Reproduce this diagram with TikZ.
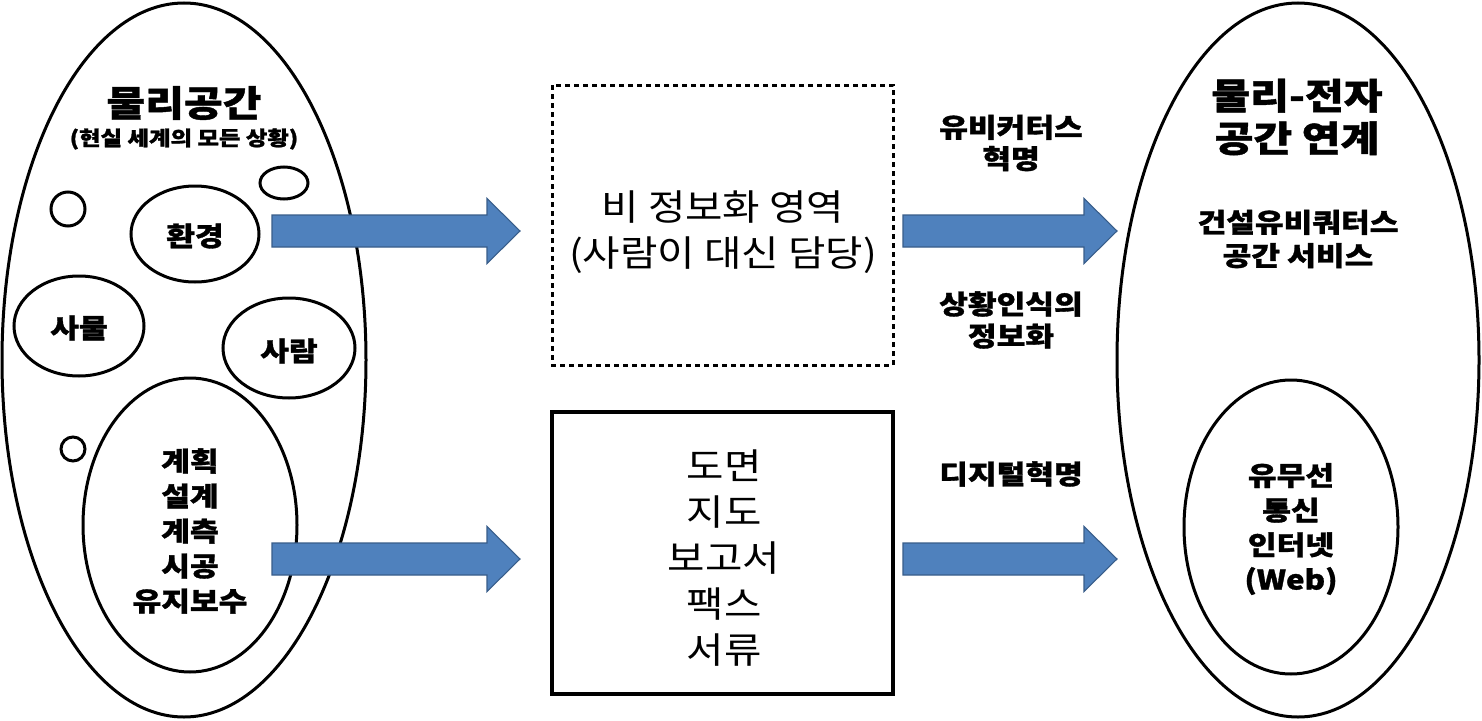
\documentclass[tikz,border=0pt]{standalone}
\usepackage{fontspec}
\setmainfont{Noto Sans CJK KR}[FakeStretch=1.13, BoldFeatures={FakeStretch=1.17, FakeBold=1.2}]
\usetikzlibrary{calc}
\definecolor{arrowfill}{HTML}{4F81BD}
\definecolor{arrowdraw}{HTML}{385D8A}
\tikzset{
  outline/.style={draw=black, line width=2.25pt},
  boldtxt/.style={font=\bfseries\fontsize{20}{26}\selectfont, align=center},
  titletxt/.style={font=\bfseries\fontsize{27}{32}\selectfont, align=center},
  boxtxt/.style={font=\fontsize{27}{34.5}\selectfont, align=center},
  blockarrow/.style={fill=arrowfill, draw=arrowdraw, line width=0.8pt,
    to path={let \p1=(\tikztostart), \p2=(\tikztotarget) in
      (\x1,\y1+12pt) -- (\x2-24.75pt,\y1+12pt) -- (\x2-24.75pt,\y1+24.4pt)
      -- (\x2,\y1) -- (\x2-24.75pt,\y1-24.4pt) -- (\x2-24.75pt,\y1-12pt)
      -- (\x1,\y1-12pt) -- cycle}}
}
\begin{document}
\begin{tikzpicture}[x=0.75pt,y=-0.75pt]
\useasboundingbox[fill=white] (0,0) rectangle (1482,721);

% left physical space
\draw[outline] (184,360) ellipse [x radius=182, y radius=357];
\node[titletxt] (lt) at (184,103) {물리공간};
\node[font=\bfseries\fontsize{15}{18}\selectfont] (lst) at (184,139) {(현실 세계의 모든 상황)};
\draw[outline] (68,209) circle [radius=17];
\draw[outline] (284,183) ellipse [x radius=24, y radius=16];
\draw[outline] (73,449) circle [radius=12];
\draw[outline] (195,234) ellipse [x radius=64, y radius=48];
\node[boldtxt] (env) at (195,236) {환경};
\draw[outline] (79,326) ellipse [x radius=65, y radius=50];
\node[boldtxt] (thing) at (79,328) {사물};
\draw[outline] (289,348) ellipse [x radius=66, y radius=50];
\node[boldtxt] (person) at (289,351) {사람};
\draw[outline] (190,525) ellipse [x radius=107, y radius=147];
\node[font=\bfseries\fontsize{20}{26.25}\selectfont, align=center] (work) at (190,531) {계획\\설계\\계측\\시공\\유지보수};

% middle boxes
\draw[draw=black, line width=2.25pt, dash pattern=on 3.75pt off 3pt] (552,85) rectangle (893,365);
\node[boxtxt] (nonin) at (723,232) {비 정보화 영역\\(사람이 대신 담당)};
\draw[draw=black, line width=3pt] (552,412) rectangle (893,694);
\node[boxtxt] (docs) at (724,558) {도면\\지도\\보고서\\팩스\\서류};

% labels
\node[font=\bfseries\fontsize{20}{23.5}\selectfont, align=center] (ubi) at (1011,143) {유비커터스\\혁명};
\node[font=\bfseries\fontsize{20}{24}\selectfont, align=center] (ctx) at (1011,320) {상황인식의\\정보화};
\node[boldtxt] (dig) at (1011,474) {디지털혁명};

% right space
\draw[outline] (1298,360) ellipse [x radius=181, y radius=357];
\node[titletxt] (rt) at (1297,117) {물리-전자\\공간 연계};
\node[font=\bfseries\fontsize{20}{25}\selectfont, align=center] (svc) at (1298,239) {건설유비쿼터스\\공간 서비스};
\draw[outline] (1291,527) ellipse [x radius=107, y radius=147];
\node[font=\bfseries\fontsize{20}{26}\selectfont, align=center] (net) at (1291,529) {유무선\\통신\\인터넷\\(Web)};

% arrows
\coordinate (a1s) at (272,231); \coordinate (a1e) at (520,231);
\coordinate (a2s) at (272,559); \coordinate (a2e) at (520,559);
\coordinate (a3s) at (903,231); \coordinate (a3e) at (1117,231);
\coordinate (a4s) at (903,559); \coordinate (a4e) at (1117,559);
\path[blockarrow] (a1s) to (a1e);
\path[blockarrow] (a2s) to (a2e);
\path[blockarrow] (a3s) to (a3e);
\path[blockarrow] (a4s) to (a4e);
\end{tikzpicture}
\end{document}
